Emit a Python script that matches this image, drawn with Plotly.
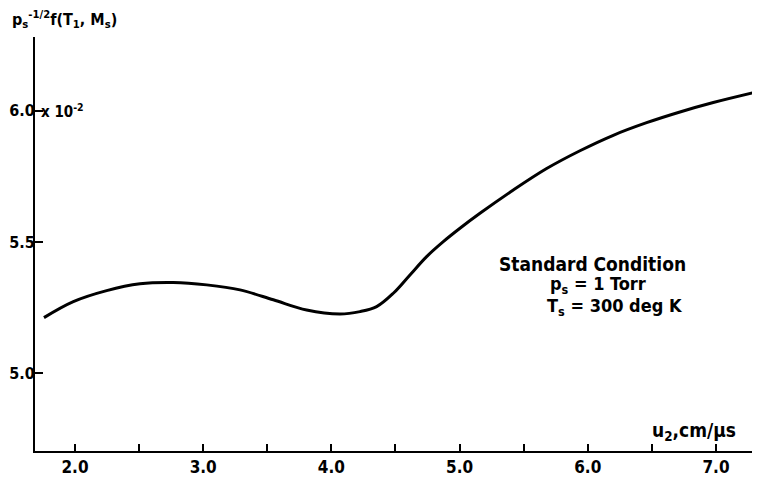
import plotly.graph_objects as go

# Data (y in units of 1e-2)
u2 = [1.758, 1.987, 2.247, 2.507, 2.767, 3.027, 3.287, 3.547, 3.807, 4.067,
      4.223, 4.353, 4.483, 4.613, 4.743, 4.873, 5.003, 5.159, 5.419, 5.679,
      5.939, 6.199, 6.459, 6.719, 6.979, 7.304]
f_val = [5.211, 5.272, 5.314, 5.340, 5.345, 5.336, 5.317, 5.279, 5.240, 5.225,
         5.234, 5.253, 5.304, 5.374, 5.444, 5.501, 5.552, 5.609, 5.698, 5.780,
         5.848, 5.907, 5.955, 5.996, 6.032, 6.071]

x_ticks = [2.0, 2.5, 3.0, 3.5, 4.0, 4.5, 5.0, 5.5, 6.0, 6.5, 7.0]
x_labels = ["2.0", "", "3.0", "", "4.0", "", "5.0", "", "6.0", "", "7.0"]
y_ticks = [5.0, 5.5, 6.0]
y_labels = ["5.0", "5.5", "6.0"]

FONT = "DejaVu Sans Condensed, DejaVu Sans, sans-serif"

fig = go.Figure()
fig.add_trace(go.Scatter(x=u2, y=f_val, mode="lines",
                         line=dict(color="black", width=3, shape="spline", smoothing=1.0),
                         showlegend=False, hoverinfo="skip"))

# page body has an 8px margin, so the figure is sized/margined to compensate
fig.update_layout(
    width=752, height=474,
    margin=dict(l=27, r=8, t=29, b=31),
    plot_bgcolor="white", paper_bgcolor="white",
    font=dict(family=FONT, color="black", size=16),
    xaxis=dict(range=[1.688, 7.281], showgrid=False, zeroline=False, automargin=False,
               showline=True, linecolor="black", linewidth=2,
               ticks="inside", ticklen=7, tickwidth=2, tickcolor="black",
               tickvals=x_ticks, ticktext=x_labels,
               tickfont=dict(family=FONT, size=17, color="black", weight="bold")),
    yaxis=dict(range=[4.702, 6.282], showgrid=False, zeroline=False, automargin=False,
               showline=True, linecolor="black", linewidth=2,
               ticks="inside", ticklen=8, tickwidth=2, tickcolor="black",
               tickvals=y_ticks, ticktext=y_labels, ticklabelstandoff=-5,
               tickfont=dict(family=FONT, size=16, color="black", weight="bold")),
)

ann_font = dict(family=FONT, size=16, color="black", weight="bold")
big_font = dict(family=FONT, size=18, color="black", weight="bold")
fig.add_annotation(x=-0.035, y=1.0, xref="paper", yref="paper", yshift=4,
                   xanchor="left", yanchor="bottom", showarrow=False,
                   text="p<sub>s</sub><sup>-1/2</sup>f(T<sub>1</sub>, M<sub>s</sub>)",
                   font=ann_font)
fig.add_annotation(x=1.688, y=6.0, xref="x", yref="y", xanchor="left", yanchor="middle",
                   xshift=4, showarrow=False, text="x 10<sup>-2</sup>",
                   font=dict(family=FONT, size=15, color="black", weight="bold"))
fig.add_annotation(x=7.172, y=4.702, xref="x", yref="y", xanchor="right", yanchor="bottom",
                   yshift=5, showarrow=False, text="u<sub>2</sub>,cm/μs",
                   font=dict(family=FONT, size=19, color="black", weight="bold"))
fig.add_annotation(x=5.292, y=5.416, xref="x", yref="y", xanchor="left", yanchor="middle",
                   showarrow=False, text="Standard Condition",
                   font=dict(family=FONT, size=19, color="black", weight="bold"))
fig.add_annotation(x=5.690, y=5.335, xref="x", yref="y", xanchor="left", yanchor="middle",
                   showarrow=False, text="p<sub>s</sub> = 1 Torr", font=big_font)
fig.add_annotation(x=5.666, y=5.250, xref="x", yref="y", xanchor="left", yanchor="middle",
                   showarrow=False, text="T<sub>s</sub> = 300 deg K", font=big_font)

fig.write_html("out.html")
